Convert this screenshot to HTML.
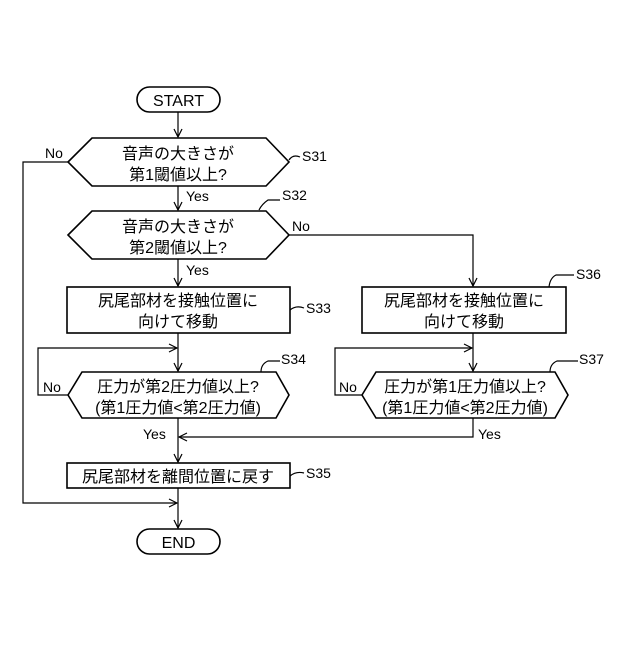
<!DOCTYPE html><html><head><meta charset="utf-8"><style>body{margin:0;background:#fff}svg text{font-family:"Liberation Sans","Noto Sans CJK JP",sans-serif;fill:#000}</style></head><body>
<svg width="640" height="640" viewBox="0 0 640 640" xmlns="http://www.w3.org/2000/svg">
<defs><marker id="a" markerWidth="10" markerHeight="10" refX="9" refY="5" orient="auto" markerUnits="userSpaceOnUse"><path d="M1,1 L9,5 L1,9" fill="none" stroke="#000" stroke-width="1.2"/></marker></defs>
<g fill="none" stroke="#000" stroke-width="1.6">
<rect x="137" y="87" width="83" height="25" rx="12.5"/>
<rect x="137" y="529" width="83" height="25" rx="12.5"/>
<polygon points="68,162 92,138 266,138 289,162 266,186 92,186"/>
<polygon points="68,235 92,211 266,211 289,235 266,259 92,259"/>
<rect x="67" y="287" width="223" height="46"/>
<rect x="362" y="287" width="204" height="46"/>
<polygon points="68,395 82,372 276,372 289,395 276,418 82,418"/>
<polygon points="362,395 376,372 555,372 568,395 555,418 376,418"/>
<rect x="67" y="463" width="223" height="25"/>
</g>
<g fill="none" stroke="#000" stroke-width="1.2">
<line x1="178" y1="112" x2="178" y2="137" marker-end="url(#a)"/>
<line x1="178" y1="186" x2="178" y2="210" marker-end="url(#a)"/>
<line x1="178" y1="259" x2="178" y2="286" marker-end="url(#a)"/>
<line x1="178" y1="333" x2="178" y2="371" marker-end="url(#a)"/>
<line x1="473" y1="333" x2="473" y2="371" marker-end="url(#a)"/>
<polyline points="68,162 23,162 23,503 177,503" marker-end="url(#a)"/>
<polyline points="289,235 473,235 473,286" marker-end="url(#a)"/>
<polyline points="68,395 38,395 38,348 177,348" marker-end="url(#a)"/>
<polyline points="362,395 335,395 335,348 472,348" marker-end="url(#a)"/>
<line x1="178" y1="418" x2="178" y2="462" marker-end="url(#a)"/>
<polyline points="473,418 473,437 179,437" marker-end="url(#a)"/>
<line x1="178" y1="488" x2="178" y2="528" marker-end="url(#a)"/>
<path d="M289,160 Q293,154 300,157"/>
<path d="M259,210 Q262,204 268,200 L280,200"/>
<path d="M290,310 Q296,305 304,308"/>
<path d="M549,287 Q550,278 556,275 L574,275"/>
<path d="M261,372 Q261,364 268,361 L280,361"/>
<path d="M550,372 Q550,364 557,361 L578,361"/>
<path d="M290,476 Q296,471 304,473"/>
</g>
<g font-size="16">
<text x="178.5" y="106" text-anchor="middle">START</text>
<text x="178.5" y="548" text-anchor="middle">END</text>
<text x="178" y="159" text-anchor="middle">音声の大きさが</text>
<text x="178" y="180" text-anchor="middle">第1閾値以上?</text>
<text x="178" y="232" text-anchor="middle">音声の大きさが</text>
<text x="178" y="253" text-anchor="middle">第2閾値以上?</text>
<text x="178" y="306" text-anchor="middle">尻尾部材を接触位置に</text>
<text x="178" y="327" text-anchor="middle">向けて移動</text>
<text x="464" y="306" text-anchor="middle">尻尾部材を接触位置に</text>
<text x="464" y="327" text-anchor="middle">向けて移動</text>
<text x="178" y="392" text-anchor="middle">圧力が第2圧力値以上?</text>
<text x="178" y="413" text-anchor="middle">(第1圧力値&lt;第2圧力値)</text>
<text x="465" y="392" text-anchor="middle">圧力が第1圧力値以上?</text>
<text x="465" y="413" text-anchor="middle">(第1圧力値&lt;第2圧力値)</text>
<text x="178" y="482" text-anchor="middle">尻尾部材を離間位置に戻す</text>
</g>
<g font-size="14">
<text x="45" y="158">No</text>
<text x="186" y="201">Yes</text>
<text x="292" y="231">No</text>
<text x="186" y="275">Yes</text>
<text x="43" y="392">No</text>
<text x="339" y="392">No</text>
<text x="143" y="439">Yes</text>
<text x="478" y="439">Yes</text>
<text x="302" y="161">S31</text>
<text x="282" y="200">S32</text>
<text x="306" y="313">S33</text>
<text x="576" y="279">S36</text>
<text x="281" y="364">S34</text>
<text x="579" y="364">S37</text>
<text x="306" y="478">S35</text>
</g>
</svg></body></html>
